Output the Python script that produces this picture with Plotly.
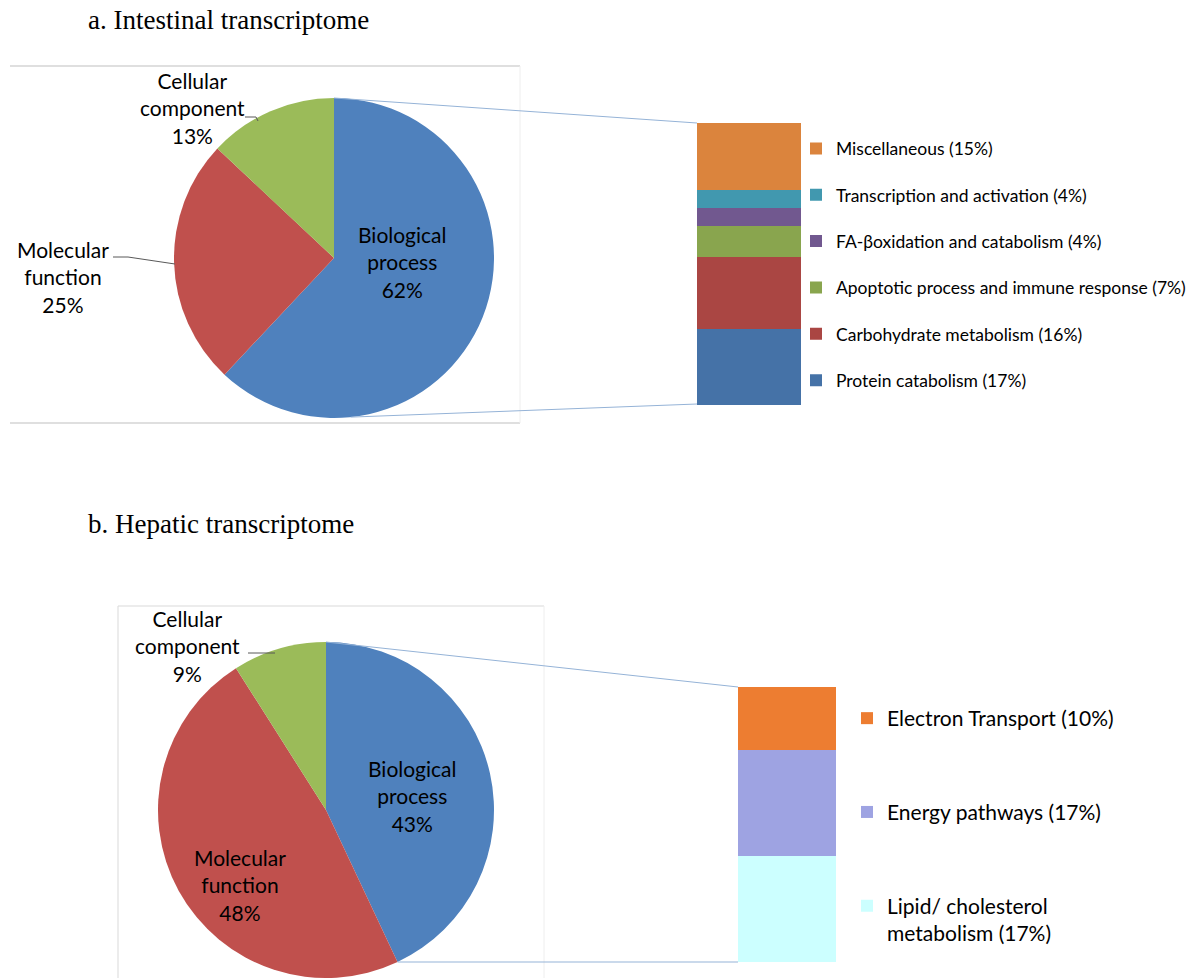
import math
import plotly.graph_objects as go

W, H = 1196, 978

# ---------------- data ----------------
go_labels = ["Biological process", "Molecular function", "Cellular component"]
go_label_text = ["Biological<br>process", "Molecular<br>function", "Cellular<br>component"]
go_colors = ["#4F81BD", "#C0504D", "#9BBB59"]

int_go_values = [62, 25, 13]
hep_go_values = [43, 48, 9]

int_sub_labels = ["Protein catabolism", "Carbohydrate metabolism",
                  "Apoptotic process and immune response", "FA-βoxidation and catabolism",
                  "Transcription and activation", "Miscellaneous"]
int_sub_values = [17, 16, 7, 4, 4, 15]
int_sub_colors = ["#4572A7", "#AA4643", "#89A54E", "#71588F", "#4198AF", "#DB843D"]

hep_sub_labels = ["Lipid/ cholesterol<br>metabolism", "Energy pathways", "Electron Transport"]
hep_sub_values = [17, 17, 10]
hep_sub_colors = ["#CCFFFF", "#9EA3E2", "#ED7D31"]

titles = ["a. Intestinal transcriptome", "b. Hepatic transcriptome"]

# ---------------- helpers ----------------
def px(x):
    return x / W

def py(y):
    return 1 - y / H

FONT = "Lato, 'Open Sans', sans-serif"

fig = go.Figure()

# pie geometry (pixels)
pa_cx, pa_cy, pa_r = 334, 258, 160
pb_cx, pb_cy, pb_r = 326, 810, 168

def pie_domain(cx, cy, r):
    return dict(x=[px(cx - r), px(cx + r)], y=[py(cy + r), py(cy - r)])

for vals, (cx, cy, r) in [(int_go_values, (pa_cx, pa_cy, pa_r)),
                          (hep_go_values, (pb_cx, pb_cy, pb_r))]:
    fig.add_trace(go.Pie(
        labels=go_labels, values=vals, sort=False, direction="clockwise", rotation=0,
        marker=dict(colors=go_colors, line=dict(width=0)),
        textinfo="none", showlegend=False, domain=pie_domain(cx, cy, r),
        hoverinfo="label+percent"))

# stacked bars (first trace at the bottom; legend lists top segment first)
n_a = len(int_sub_labels)
for i, (lab, v, c) in enumerate(zip(int_sub_labels, int_sub_values, int_sub_colors)):
    fig.add_trace(go.Bar(x=[0], y=[v], name=f"{lab} ({v}%)", marker=dict(color=c, line=dict(width=0)),
                         width=1, xaxis="x", yaxis="y", legend="legend", legendgroup=lab,
                         legendrank=n_a - i))
n_b = len(hep_sub_labels)
for i, (lab, v, c) in enumerate(zip(hep_sub_labels, hep_sub_values, hep_sub_colors)):
    fig.add_trace(go.Bar(x=[0], y=[v], name=f"{lab} ({v}%)", marker=dict(color=c, line=dict(width=0)),
                         width=1, xaxis="x2", yaxis="y2", legend="legend2", legendgroup=lab,
                         legendrank=n_b - i))

# bar pixel boxes
ba = dict(l=697, r=801, t=123, b=405)
bb = dict(l=738, r=836, t=687, b=962)

axis_common = dict(visible=False, showgrid=False, zeroline=False, fixedrange=True)
fig.update_layout(
    xaxis=dict(domain=[px(ba["l"]), px(ba["r"])], range=[-0.5, 0.5], anchor="y", **axis_common),
    yaxis=dict(domain=[py(ba["b"]), py(ba["t"])], range=[0, sum(int_sub_values)], anchor="x", **axis_common),
    xaxis2=dict(domain=[px(bb["l"]), px(bb["r"])], range=[-0.5, 0.5], anchor="y2", **axis_common),
    yaxis2=dict(domain=[py(bb["b"]), py(bb["t"])], range=[0, sum(hep_sub_values)], anchor="x2", **axis_common),
    barmode="stack",
)

# legends
fig.update_layout(
    legend=dict(x=px(796), y=py(130.5), xanchor="left", yanchor="top", traceorder="grouped",
                tracegroupgap=20.6, font=dict(family=FONT, size=17.5, color="#000"),
                bgcolor="rgba(0,0,0,0)", valign="top"),
    legend2=dict(x=px(847), y=py(698), xanchor="left", yanchor="top", traceorder="grouped",
                 tracegroupgap=63.5, font=dict(family=FONT, size=21, color="#000"),
                 bgcolor="rgba(0,0,0,0)", valign="top"),
)

shapes = []
def line(pts, color, width=1):
    path = "M " + " L ".join(f"{px(x)},{py(y)}" for x, y in pts)
    shapes.append(dict(type="path", path=path, xref="paper", yref="paper",
                       line=dict(color=color, width=width), layer="above"))

# chart frames
line([(10, 66), (520, 66)], "#BFBFBF")
line([(10, 423), (520, 423)], "#BFBFBF")
line([(520, 66), (520, 423)], "#EEEEEE")
line([(118, 606), (544, 606)], "#D9D9D9")
line([(118, 606), (118, 978)], "#D9D9D9")
line([(544, 606), (544, 978)], "#EEEEEE")

# connector lines from pie to bar
conn = "#95B3D7"
line([(pa_cx, pa_cy - pa_r), (ba["l"], ba["t"])], conn)
ang_a = math.radians(174)
line([(pa_cx + pa_r * math.sin(ang_a), pa_cy - pa_r * math.cos(ang_a)), (ba["l"], ba["b"] - 1)], conn)
line([(pb_cx, pb_cy - pb_r), (bb["l"], bb["t"])], conn)
ang_b = math.radians(360 * hep_go_values[0] / sum(hep_go_values))
line([(pb_cx + pb_r * math.sin(ang_b), pb_cy - pb_r * math.cos(ang_b)), (bb["l"], bb["b"])], conn)

# leader lines for outside labels
lead = "#595959"
line([(113, 257), (128, 257), (175, 264)], lead)
line([(245, 117), (256, 117), (258, 121)], lead)
line([(248, 653), (275, 653)], lead)

annotations = []
def text(x, y, s, size=21, family=FONT, xanchor="center", align="center"):
    annotations.append(dict(x=px(x), y=py(y), xref="paper", yref="paper", text=s, showarrow=False,
                            xanchor=xanchor, yanchor="middle", align=align,
                            font=dict(family=family, size=size, color="#000")))

pie_label_pos_a = [(402, 262), (63, 277), (192, 108)]
pie_label_pos_b = [(412, 796), (240, 885), (187, 646)]
for t, v, (x, y) in zip(go_label_text, int_go_values, pie_label_pos_a):
    text(x, y, f"{t}<br>{v}%")
for t, v, (x, y) in zip(go_label_text, hep_go_values, pie_label_pos_b):
    text(x, y, f"{t}<br>{v}%")

SERIF = "'Liberation Serif', 'Times New Roman', serif"
text(86, 20, titles[0], size=27, family=SERIF, xanchor="left")
text(86, 524, titles[1], size=27, family=SERIF, xanchor="left")

fig.update_layout(
    width=W, height=H, margin=dict(l=0, r=0, t=0, b=0),
    paper_bgcolor="white", plot_bgcolor="white",
    shapes=shapes, annotations=annotations,
)

fig.write_html("out.html")
